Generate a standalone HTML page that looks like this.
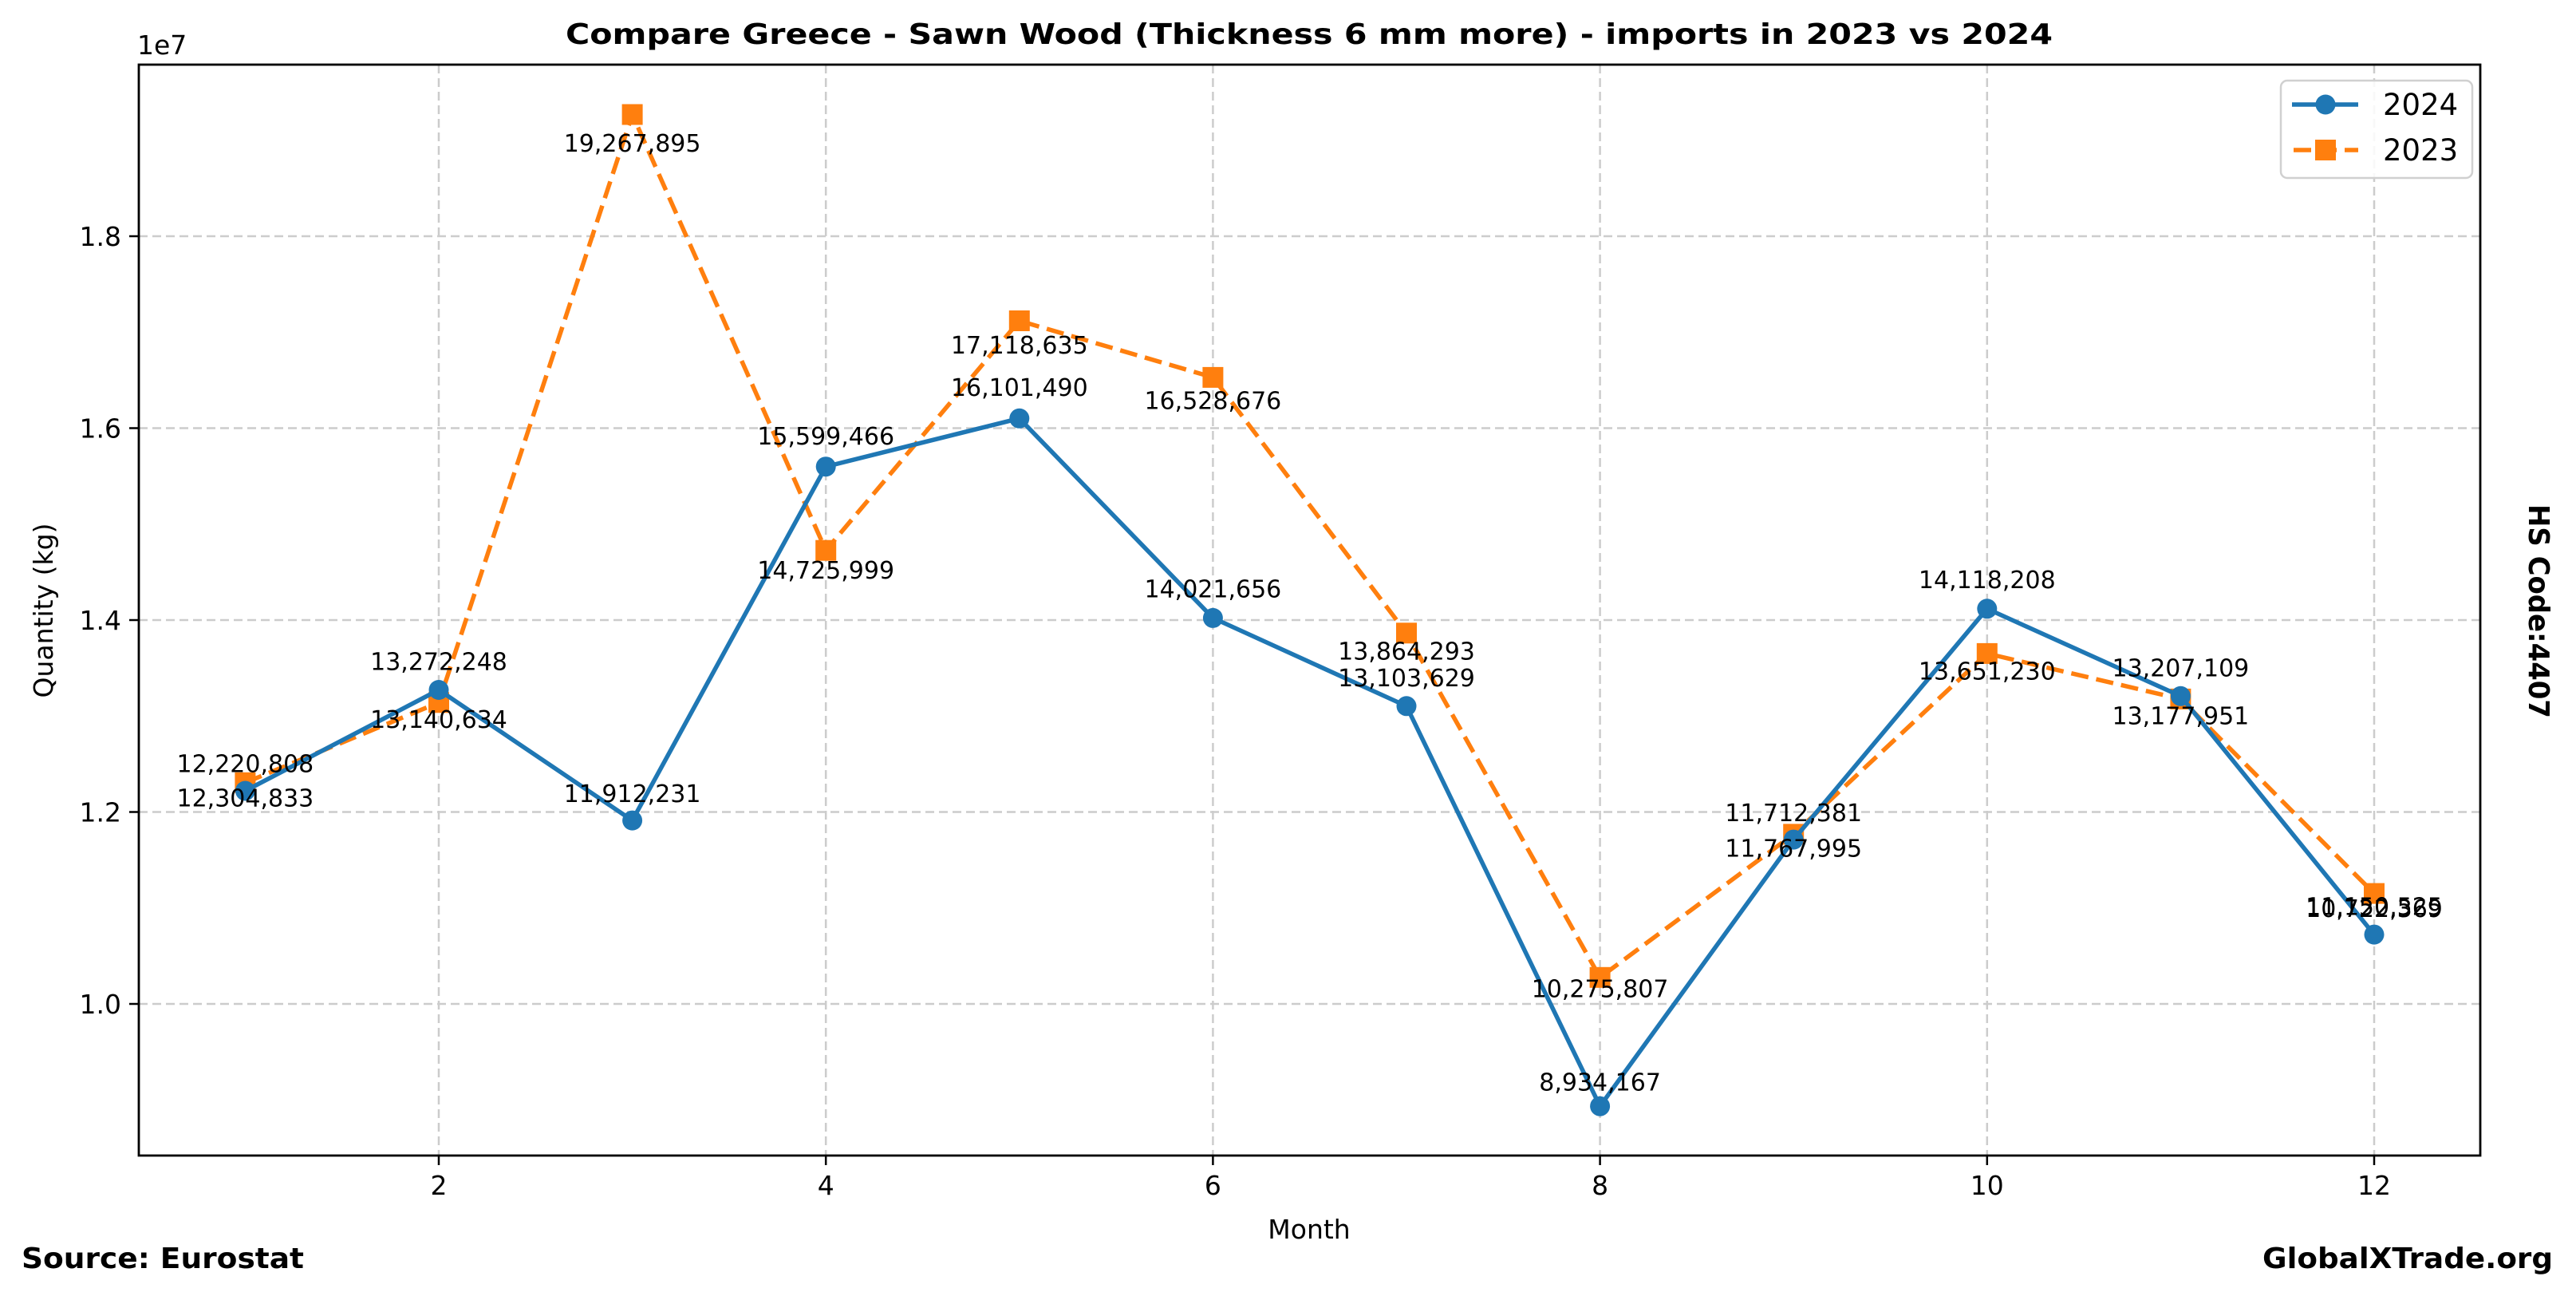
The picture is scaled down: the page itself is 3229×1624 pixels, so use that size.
<!DOCTYPE html>
<html><head><meta charset="utf-8"><style>html,body{margin:0;padding:0;background:#fff}svg{display:block}</style></head>
<body>
<svg xmlns="http://www.w3.org/2000/svg" width="3229" height="1624" viewBox="0 0 3229 1624" font-family="DejaVu Sans, Liberation Sans, sans-serif">
<rect width="3229" height="1624" fill="#fff"/>
<g stroke="#cccccc" stroke-width="2.5" stroke-dasharray="11,6">
<line x1="550" y1="81" x2="550" y2="1448"/>
<line x1="1035.2" y1="81" x2="1035.2" y2="1448"/>
<line x1="1520.4" y1="81" x2="1520.4" y2="1448"/>
<line x1="2005.6" y1="81" x2="2005.6" y2="1448"/>
<line x1="2490.8" y1="81" x2="2490.8" y2="1448"/>
<line x1="2976" y1="81" x2="2976" y2="1448"/>
<line x1="174" y1="1258" x2="3109" y2="1258"/>
<line x1="174" y1="1017.5" x2="3109" y2="1017.5"/>
<line x1="174" y1="777" x2="3109" y2="777"/>
<line x1="174" y1="536.5" x2="3109" y2="536.5"/>
<line x1="174" y1="296" x2="3109" y2="296"/>
</g>
<g stroke="#000" stroke-width="2.5">
<line x1="550" y1="1448" x2="550" y2="1460"/><line x1="1035.2" y1="1448" x2="1035.2" y2="1460"/><line x1="1520.4" y1="1448" x2="1520.4" y2="1460"/><line x1="2005.6" y1="1448" x2="2005.6" y2="1460"/><line x1="2490.8" y1="1448" x2="2490.8" y2="1460"/><line x1="2976" y1="1448" x2="2976" y2="1460"/>
<line x1="162" y1="1258" x2="174" y2="1258"/><line x1="162" y1="1017.5" x2="174" y2="1017.5"/><line x1="162" y1="777" x2="174" y2="777"/><line x1="162" y1="536.5" x2="174" y2="536.5"/><line x1="162" y1="296" x2="174" y2="296"/>
</g>
<g font-size="33" fill="#000" text-anchor="middle">
<text x="550" y="1497">2</text><text x="1035.2" y="1497">4</text><text x="1520.4" y="1497">6</text><text x="2005.6" y="1497">8</text><text x="2490.8" y="1497">10</text><text x="2976" y="1497">12</text>
</g>
<g font-size="33" fill="#000" text-anchor="end">
<text x="152" y="1270">1.0</text><text x="152" y="1029.5">1.2</text><text x="152" y="789">1.4</text><text x="152" y="548.5">1.6</text><text x="152" y="308">1.8</text>
</g>
<text x="172" y="68" font-size="33">1e7</text>
<text x="1641" y="55" font-size="36" font-weight="bold" text-anchor="middle" textLength="1864" lengthAdjust="spacingAndGlyphs">Compare Greece - Sawn Wood (Thickness 6 mm more) - imports in 2023 vs 2024</text>
<text x="1641" y="1552" font-size="33" text-anchor="middle">Month</text>
<text transform="translate(66,765) rotate(-90)" font-size="33" text-anchor="middle">Quantity (kg)</text>
<text transform="translate(3170,766) rotate(90)" font-size="36" font-weight="bold" text-anchor="middle" textLength="268" lengthAdjust="spacingAndGlyphs">HS Code:4407</text>
<text x="27" y="1589" font-size="36" font-weight="bold" textLength="354" lengthAdjust="spacingAndGlyphs">Source: Eurostat</text>
<text x="3200" y="1589" font-size="36" font-weight="bold" text-anchor="end" textLength="364" lengthAdjust="spacingAndGlyphs">GlobalXTrade.org</text>
<polyline fill="none" stroke="#ff7f0e" stroke-width="5.5" stroke-dasharray="22,10" points="307.4,980.8 550,880.3 792.6,143.5 1035.2,689.7 1277.8,402 1520.4,472.9 1763,793.3 2005.6,1224.8 2248.2,1045.4 2490.8,818.9 2733.4,875.9 2976,1119.6"/>
<g fill="#ff7f0e">
<rect x="294.4" y="967.8" width="26" height="26"/><rect x="537" y="867.3" width="26" height="26"/><rect x="779.6" y="130.5" width="26" height="26"/><rect x="1022.2" y="676.7" width="26" height="26"/><rect x="1264.8" y="389" width="26" height="26"/><rect x="1507.4" y="459.9" width="26" height="26"/><rect x="1750" y="780.3" width="26" height="26"/><rect x="1992.6" y="1211.8" width="26" height="26"/><rect x="2235.2" y="1032.4" width="26" height="26"/><rect x="2477.8" y="805.9" width="26" height="26"/><rect x="2720.4" y="862.9" width="26" height="26"/><rect x="2963" y="1106.6" width="26" height="26"/>
</g>
<polyline fill="none" stroke="#1f77b4" stroke-width="5.5" points="307.4,991 550,864.5 792.6,1028.1 1035.2,584.7 1277.8,524.3 1520.4,774.4 1763,884.8 2005.6,1386.2 2248.2,1052.1 2490.8,762.8 2733.4,872.3 2976,1171.1"/>
<g fill="#1f77b4">
<circle cx="307.4" cy="991" r="12.5"/><circle cx="550" cy="864.5" r="12.5"/><circle cx="792.6" cy="1028.1" r="12.5"/><circle cx="1035.2" cy="584.7" r="12.5"/><circle cx="1277.8" cy="524.3" r="12.5"/><circle cx="1520.4" cy="774.4" r="12.5"/><circle cx="1763" cy="884.8" r="12.5"/><circle cx="2005.6" cy="1386.2" r="12.5"/><circle cx="2248.2" cy="1052.1" r="12.5"/><circle cx="2490.8" cy="762.8" r="12.5"/><circle cx="2733.4" cy="872.3" r="12.5"/><circle cx="2976" cy="1171.1" r="12.5"/>
</g>
<g font-size="30" text-anchor="middle" fill="#000">
<text x="307.4" y="967.3">12,220,808</text><text x="550" y="839.5">13,272,248</text><text x="792.6" y="1004.8">11,912,231</text><text x="1035.2" y="556.9">15,599,466</text><text x="1277.8" y="495.9">16,101,490</text><text x="1520.4" y="748.5">14,021,656</text><text x="1763" y="860">13,103,629</text><text x="2005.6" y="1366.5">8,934,167</text><text x="2248.2" y="1029">11,712,381</text><text x="2490.8" y="736.8">14,118,208</text><text x="2733.4" y="847.4">13,207,109</text><text x="2976" y="1149.2">10,722,369</text>
<text x="307.4" y="1010.4">12,304,833</text><text x="550" y="911.9">13,140,634</text><text x="792.6" y="189.8">19,267,895</text><text x="1035.2" y="725.1">14,725,999</text><text x="1277.8" y="443.2">17,118,635</text><text x="1520.4" y="512.7">16,528,676</text><text x="1763" y="826.6">13,864,293</text><text x="2005.6" y="1249.5">10,275,807</text><text x="2248.2" y="1073.7">11,767,995</text><text x="2490.8" y="851.7">13,651,230</text><text x="2733.4" y="907.6">13,177,951</text><text x="2976" y="1146.4">11,150,525</text>
</g>
<rect x="174" y="81" width="2935" height="1367" fill="none" stroke="#000" stroke-width="2.8"/>
<rect x="2859" y="101" width="240" height="122" rx="8" fill="#fff" fill-opacity="0.85" stroke="#d0d0d0" stroke-width="2.5"/>
<line x1="2873" y1="131" x2="2956" y2="131" stroke="#1f77b4" stroke-width="5.5"/>
<circle cx="2915" cy="131" r="12.5" fill="#1f77b4"/>
<line x1="2875" y1="188" x2="2956" y2="188" stroke="#ff7f0e" stroke-width="5.5" stroke-dasharray="22,10"/>
<rect x="2902" y="175" width="26" height="26" fill="#ff7f0e"/>
<text x="2987" y="144" font-size="37">2024</text>
<text x="2987" y="201" font-size="37">2023</text>
</svg>
</body></html>
